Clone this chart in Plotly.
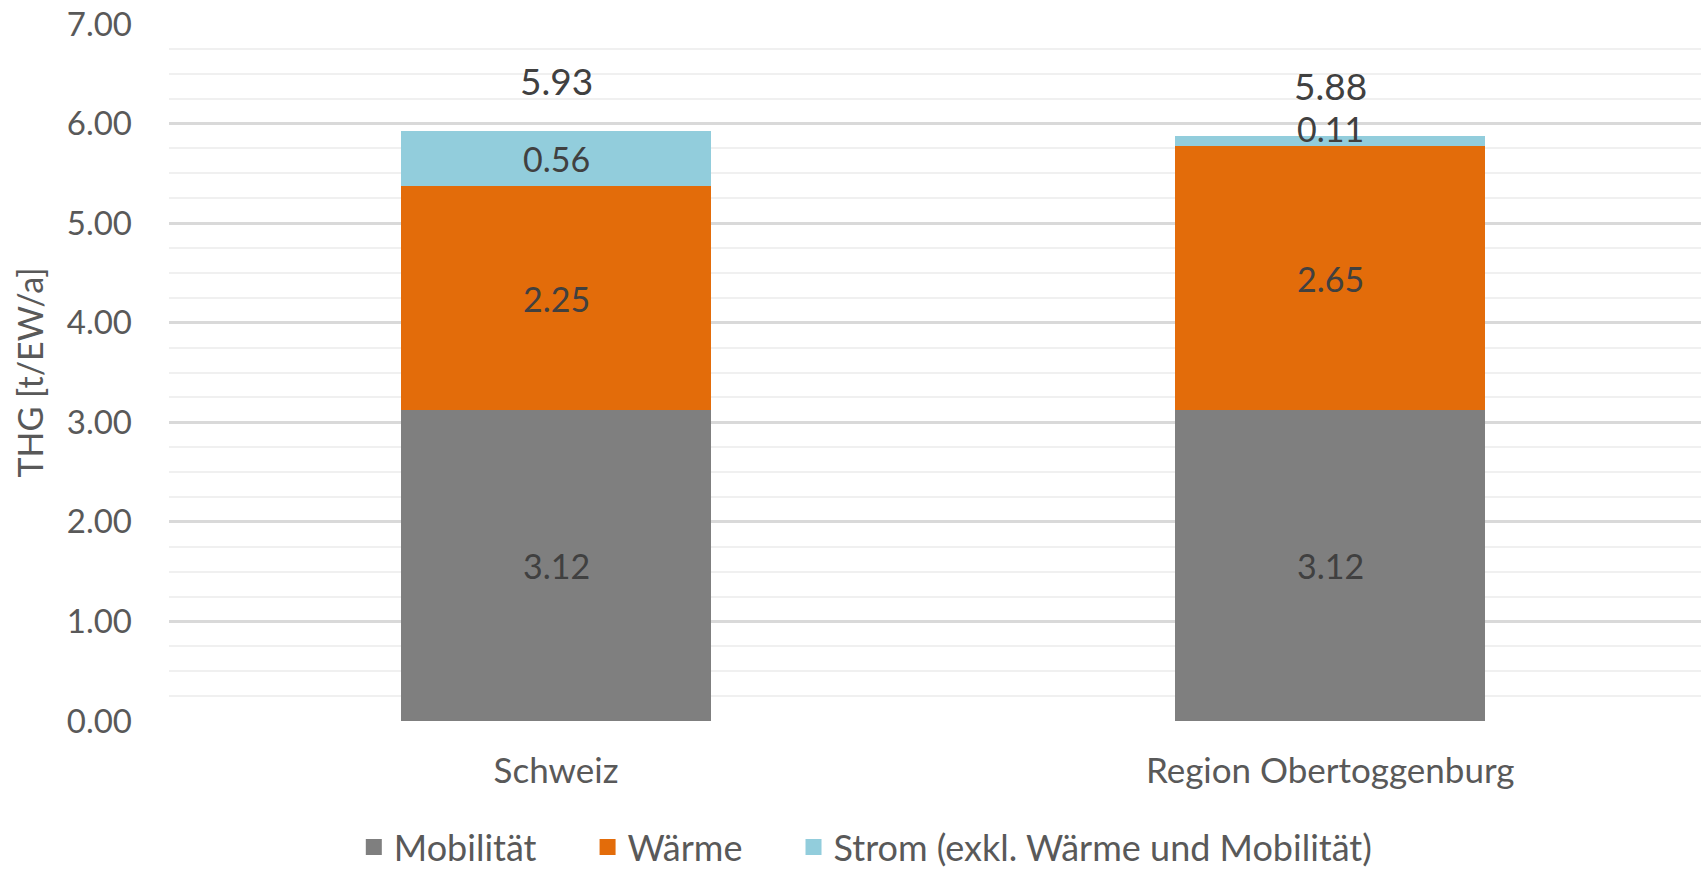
import plotly.graph_objects as go

categories = ["Schweiz", "Region Obertoggenburg"]
series_names = ["Mobilität", "Wärme", "Strom (exkl. Wärme und Mobilität)"]
mobilitaet = [3.12, 3.12]
waerme = [2.25, 2.65]
strom = [0.56, 0.11]
totals = [5.93, 5.88]
y_ticks = [0, 1, 2, 3, 4, 5, 6, 7]

colors = ["#7f7f7f", "#e36c0a", "#92cddc"]
FONT = "Lato"
PAD = "\u00a0" * 5

series = [mobilitaet, waerme, strom]
fig = go.Figure()
xpos = list(range(len(categories)))
for name, vals, col in zip(series_names, series, colors):
    fig.add_trace(go.Bar(
        x=xpos, y=vals, name=name, marker=dict(color=col, line=dict(width=0)),
        width=0.4, showlegend=False,
    ))
# legend entries with larger square symbols
for k, (name, col) in enumerate(zip(series_names, colors)):
    fig.add_trace(go.Scatter(
        x=[None], y=[None], mode="markers", name=name + (PAD if k < len(series_names) - 1 else ""),
        marker=dict(symbol="square", size=20, color=col), showlegend=True,
    ))

annotations = []
base = [0.0] * len(categories)
for si, vals in enumerate(series):
    for i, v in enumerate(vals):
        mid = base[i] + v / 2
        shift = 13 if v < 0.3 else 0
        annotations.append(dict(
            x=xpos[i], y=mid, xref="x", yref="y", text=f"{v:.2f}",
            showarrow=False, yshift=shift,
            font=dict(family=FONT, size=34, color="#404040"),
        ))
        base[i] += v
for i, t in enumerate(totals):
    annotations.append(dict(
        x=xpos[i], y=t, xref="x", yref="y", text=f"{t:.2f}",
        showarrow=False, yshift=50,
        font=dict(family=FONT, size=37, color="#404040"),
    ))

fig.update_layout(
    width=1701, height=871,
    margin=dict(l=169, r=0, t=24, b=150, autoexpand=False),
    paper_bgcolor="white", plot_bgcolor="white",
    font=dict(family=FONT, size=33, color="#595959"),
    annotations=annotations,
    barmode="stack",
    showlegend=True,
    legend=dict(
        orientation="h", x=0.509, xanchor="center", xref="container",
        y=24 / 871, yanchor="middle", yref="container",
        font=dict(family=FONT, size=36, color="#595959"),
        itemwidth=30, traceorder="normal",
    ),
    xaxis=dict(
        range=[-0.5, 1.479], tickmode="array", tickvals=xpos, ticktext=categories,
        showgrid=False, zeroline=False, showline=False,
        ticks="", ticklabelstandoff=26,
        tickfont=dict(family=FONT, size=35, color="#595959"),
    ),
    yaxis=dict(
        range=[0, 7], tickvals=y_ticks, tickformat=".2f",
        showgrid=True, gridcolor="#d9d9d9", gridwidth=2.5,
        zeroline=False, showline=False, ticks="",
        ticklabelstandoff=36,
        tickfont=dict(family=FONT, size=33, color="#595959"),
        minor=dict(dtick=0.25, showgrid=True, gridcolor="#f0f0f0", gridwidth=2),
        title=dict(text="THG [t/EW/a]", standoff=12,
                   font=dict(family=FONT, size=34, color="#595959")),
    ),
)

fig.write_html("out.html")
